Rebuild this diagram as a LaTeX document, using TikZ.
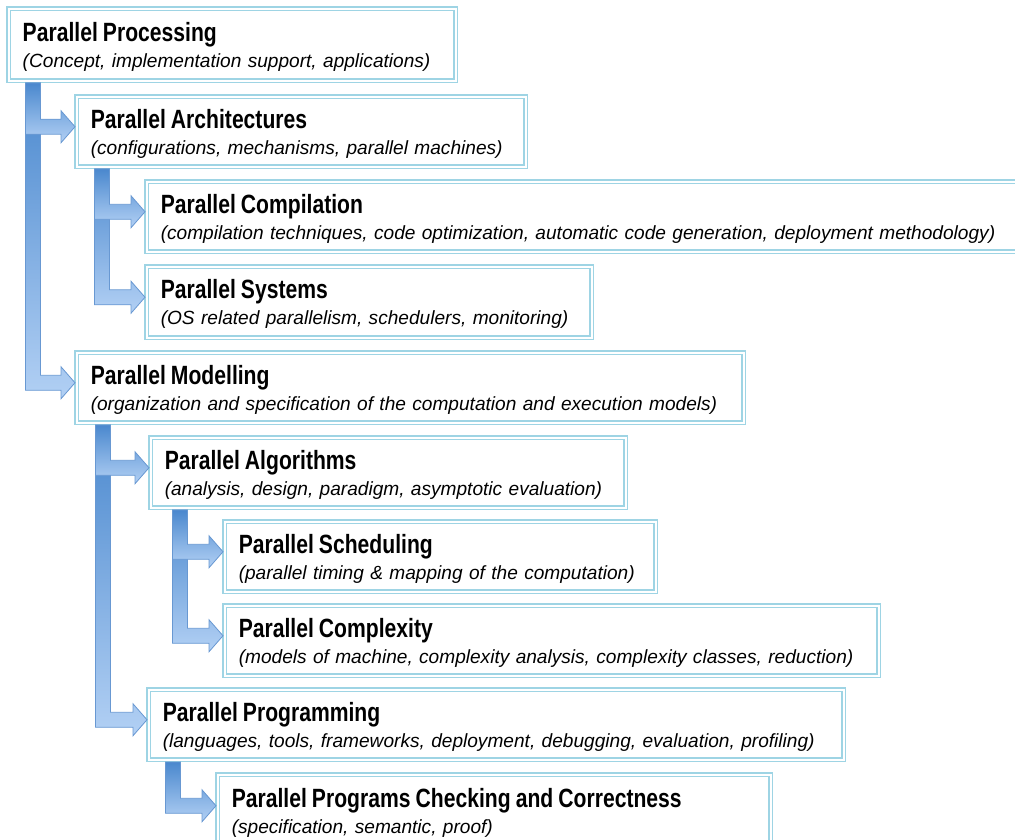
\documentclass[tikz,border=0pt]{standalone}
\usepackage{fontspec}
\usepackage{graphicx}
\setmainfont{Liberation Sans}
\usetikzlibrary{calc}
\definecolor{boxline}{RGB}{158,212,228}
\definecolor{flowtop}{RGB}{74,136,206}
\definecolor{flowbot}{RGB}{178,208,244}
\definecolor{flowedge}{RGB}{104,152,210}
\tikzset{
  box/.style={draw=boxline,double=white,double distance=1.8pt,line width=1.5pt,
              fill=white,anchor=north west,inner xsep=14pt,align=left,
              minimum height=70pt,font=\fontsize{19.1}{26}\selectfont},
  flow/.style={top color=flowtop,bottom color=flowbot,draw=flowedge,
               line width=0.8pt,line join=miter}
}
\newcommand{\ttl}[1]{\mbox{\rule{0pt}{23pt}\scalebox{0.8}[1]{\fontsize{26.4}{26}\selectfont\bfseries #1}}}
\newcommand{\sub}[1]{\mbox{\itshape #1}}
% bent arrow: parent, child, shaft offset from parent's left side
\newcommand{\bent}[3]{%
  \draw[flow] let \p1=(#1.south west), \p2=(#2.west) in
    (\x1+#3pt-7.5pt,\y1-1.5pt) -- (\x1+#3pt+7.5pt,\y1-1.5pt)
    -- (\x1+#3pt+7.5pt,\y2+12.5pt) -- (\x2-15pt,\y2+12.5pt)
    -- (\x2-15pt,\y2+21pt) -- (\x2-1pt,\y2+5pt) -- (\x2-15pt,\y2-11pt)
    -- (\x2-15pt,\y2-2.5pt) -- (\x1+#3pt-7.5pt,\y2-2.5pt) -- cycle;}
\begin{document}
\begin{tikzpicture}[x=1pt,y=-1pt]
  \useasboundingbox (0,0) rectangle (1015,840);
  \clip (0,0) rectangle (1015,840);

  % Draw boxes
  \node[box,text width=419pt,minimum height=72pt] (pp) at (8,8)
    {\ttl{Parallel Processing}\\\sub{(Concept, implementation support, applications)}};
  \node[box,text width=421pt] (arch) at (76,96)
    {\ttl{Parallel Architectures}\\\sub{(configurations, mechanisms, parallel machines)}};
  \node[box,text width=852pt] (comp) at (146,181)
    {\ttl{Parallel Compilation}\\\sub{(compilation techniques, code optimization, automatic code generation, deployment methodology)}};
  \node[box,text width=417pt,minimum height=71pt] (sys) at (146,266)
    {\ttl{Parallel Systems}\\\sub{(OS related parallelism, schedulers, monitoring)}};
  \node[box,text width=639pt] (model) at (76,352)
    {\ttl{Parallel Modelling}\\\sub{(organization and specification of the computation and execution models)}};
  \node[box,text width=447pt] (algo) at (150,437)
    {\ttl{Parallel Algorithms}\\\sub{(analysis, design, paradigm, asymptotic evaluation)}};
  \node[box,text width=403pt] (sched) at (224,521)
    {\ttl{Parallel Scheduling}\\\sub{(parallel timing \& mapping of the computation)}};
  \node[box,text width=626pt] (cplx) at (224,605)
    {\ttl{Parallel Complexity}\\\sub{(models of machine, complexity analysis, complexity classes, reduction)}};
  \node[box,text width=667pt] (prog) at (148,689)
    {\ttl{Parallel Programming}\\\sub{(languages, tools, frameworks, deployment, debugging, evaluation, profiling)}};
  \node[box,text width=525pt,minimum height=72pt] (check) at (217,774)
    {\ttl{Parallel Programs Checking and Correctness}\\\sub{(specification, semantic, proof)}};

  % Draw bent arrows, longest first
  \foreach \from/\to/\off in {pp/model/25,pp/arch/25,arch/sys/26,arch/comp/26,
                        model/prog/27,model/algo/27,algo/cplx/30,algo/sched/30,
                        prog/check/25}{%
    \bent{\from}{\to}{\off}
  }
\end{tikzpicture}
\end{document}
